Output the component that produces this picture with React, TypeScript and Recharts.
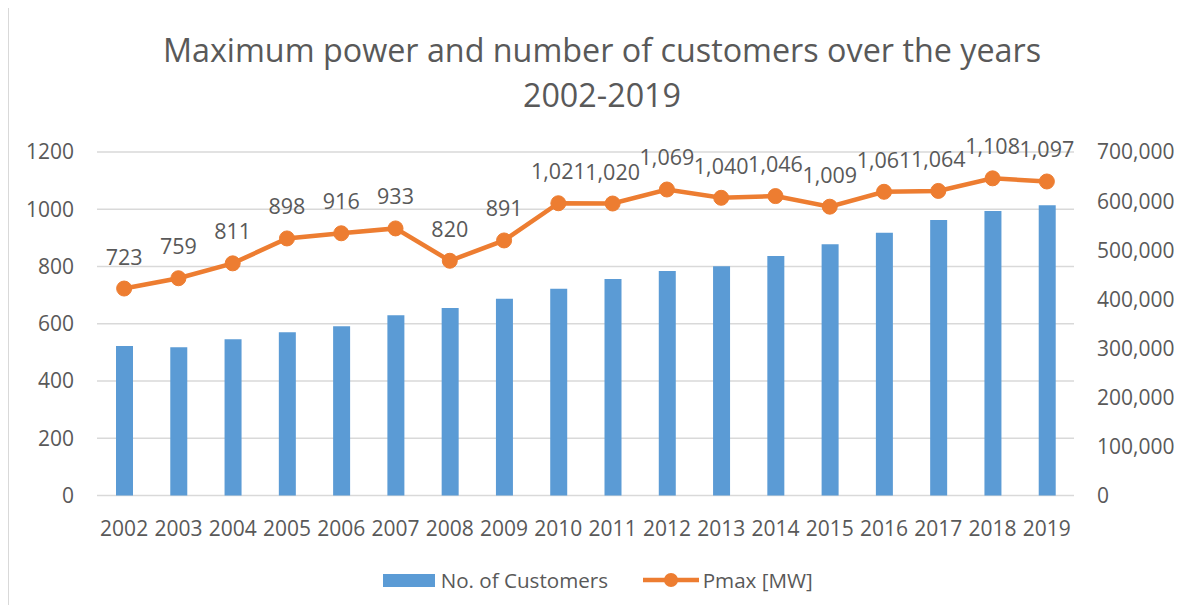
import React from 'react';
import { ComposedChart, Bar, Line, XAxis, YAxis, CartesianGrid, LabelList } from 'recharts';

const years = ['2002', '2003', '2004', '2005', '2006', '2007', '2008', '2009', '2010', '2011', '2012', '2013', '2014', '2015', '2016', '2017', '2018', '2019'];
const customers = [304700, 302000, 318300, 332600, 344800, 367200, 382100, 401000, 421400, 441200, 457500, 467000, 488000, 511900, 535500, 561400, 579800, 591400];
const pmax = [723, 759, 811, 898, 916, 933, 820, 891, 1021, 1020, 1069, 1040, 1046, 1009, 1061, 1064, 1108, 1097];
const leftTicks = [0, 200, 400, 600, 800, 1000, 1200];
const rightTicks = [0, 100000, 200000, 300000, 400000, 500000, 600000, 700000];
const titleLines = ['Maximum power and number of customers over the years', '2002-2019'];
const seriesNames = { customers: 'No. of Customers', pmax: 'Pmax [MW]' };

const data = years.map((y, i) => ({ year: y, customers: customers[i], pmax: pmax[i] }));

const FONT = "'Open Sans', 'Noto Sans', sans-serif";
const TXT = '#595959';
const BLUE = '#5B9BD5';
const ORANGE = '#ED7D31';
const GRID = '#d9d9d9';

const fmt = (v: number) => Number(v).toLocaleString('en-US');

export default function App() {
  const W = 1174;
  const H = 597;
  const legendText: React.CSSProperties = { position: 'absolute', top: 558, height: 28, lineHeight: '28px', fontSize: 20.6, color: TXT, whiteSpace: 'nowrap' };
  return (
    <div style={{ position: 'relative', width: W, height: H, fontFamily: FONT }}>
      <style>{'html,body{overflow:hidden;}'}</style>
      <div style={{ position: 'absolute', left: 0, top: -1, width: 1200, height: 640, border: `1.5px solid ${GRID}`, boxSizing: 'border-box' }} />
      <div style={{ position: 'absolute', left: 0, top: 18.5, width: 1188, textAlign: 'center', fontSize: 32.3, lineHeight: '45.5px', color: TXT }}>
        {titleLines.map((t, i) => (
          <div key={i}>{t}</div>
        ))}
      </div>
      <ComposedChart
        width={W}
        height={H}
        data={data}
        margin={{ top: 144, right: 0, bottom: 79.5, left: 0 }}
        barCategoryGap={0}
      >
        <CartesianGrid yAxisId="left" vertical={false} stroke={GRID} strokeWidth={1.5} />
        <XAxis
          dataKey="year"
          axisLine={false}
          tickLine={false}
          tickMargin={20}
          height={30}
          interval={0}
          tick={{ fill: TXT, fontSize: 21, fontFamily: FONT }}
        />
        <YAxis
          yAxisId="left"
          orientation="left"
          width={89}
          domain={[0, 1200]}
          ticks={leftTicks}
          axisLine={false}
          tickLine={false}
          tickMargin={17}
          tick={{ fill: TXT, fontSize: 21, fontFamily: FONT }}
        />
        <YAxis
          yAxisId="right"
          orientation="right"
          width={108}
          domain={[0, 700000]}
          ticks={rightTicks}
          axisLine={false}
          tickLine={false}
          tickMargin={17}
          tickFormatter={fmt}
          tick={{ fill: TXT, fontSize: 21, fontFamily: FONT, textAnchor: 'start' }}
        />
        <Bar yAxisId="right" dataKey="customers" name={seriesNames.customers} fill={BLUE} barSize={17} isAnimationActive={false} />
        <Line
          yAxisId="left"
          dataKey="pmax"
          name={seriesNames.pmax}
          stroke={ORANGE}
          strokeWidth={4.5}
          dot={{ r: 7.5, fill: ORANGE, stroke: ORANGE, strokeWidth: 1 }}
          activeDot={false}
          isAnimationActive={false}
        >
          <LabelList dataKey="pmax" position="top" offset={24} formatter={fmt} style={{ fill: TXT, fontSize: 21.5, fontFamily: FONT }} />
        </Line>
      </ComposedChart>
      <svg width={52} height={13} style={{ position: 'absolute', left: 375, top: 566, display: 'block' }}>
        <rect x={0} y={0} width={52} height={13} fill={BLUE} />
      </svg>
      <span style={{ ...legendText, left: 432.7 }}>{seriesNames.customers}</span>
      <svg width={56} height={18} style={{ position: 'absolute', left: 634.7, top: 563, display: 'block' }}>
        <line x1={0} y1={9} x2={56} y2={9} stroke={ORANGE} strokeWidth={4.5} />
        <circle cx={28} cy={9} r={7} fill={ORANGE} />
      </svg>
      <span style={{ ...legendText, left: 694.7 }}>{seriesNames.pmax}</span>
    </div>
  );
}
